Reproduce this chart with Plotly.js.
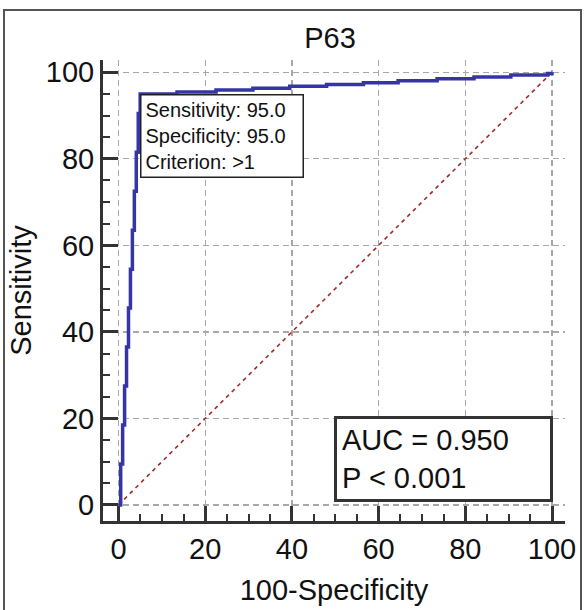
<!DOCTYPE html>
<html><head><meta charset="utf-8">
<script src="https://cdn.plot.ly/plotly-3.0.1.min.js"></script>
<style>
html,body{margin:0;padding:0;background:#fff;}
#wrap{position:relative;width:585px;height:610px;overflow:hidden;}
#frame{position:absolute;left:3px;top:9px;width:579px;height:620px;border:2px solid #555;box-sizing:border-box;pointer-events:none;z-index:2}
#chart{position:absolute;left:0;top:0;width:585px;height:610px;}
</style></head>
<body><div id="wrap"><div id="chart"></div><div id="frame"></div></div>
<script>
// ROC curve operating points (100-Specificity, Sensitivity), drawn as steps
const fprPoints  = [0, 0.5, 0.95, 1.4, 1.85, 2.3, 2.75, 3.2, 3.65, 4.1, 4.55, 5.0,
                    13.5, 22.5, 31, 39.5, 48, 56.5, 64.5, 73.5, 82, 90.5, 99, 100];
const sensPoints = [0, 9.5, 18.5, 27.5, 36.5, 45.5, 54.5, 63.5, 72.5, 81.5, 90.5, 95,
                    95.45, 95.9, 96.3, 96.75, 97.2, 97.6, 98.05, 98.5, 98.9, 99.35, 99.7, 100];
// reference (chance) line
const refX = [0, 100];
const refY = [0, 100];
// tick values
const tickValues = [0, 20, 40, 60, 80, 100];
const tickLabels = ['0', '20', '40', '60', '80', '100'];
// texts
const chartTitle = 'P63';
const xTitle = '100-Specificity';
const yTitle = 'Sensitivity';
const cutoffSens = 95.0, cutoffSpec = 95.0, criterion = '>1';
const aucText = 'AUC = 0.950';
const pText = 'P &lt; 0.001';

const FONT = '"Liberation Sans", Arial, Helvetica, sans-serif';

const traces = [
  {x: refX, y: refY, type: 'scatter', mode: 'lines',
   line: {color: '#a02a2a', width: 1.6, dash: '4px,4px'}, hoverinfo: 'skip'},
  {x: fprPoints, y: sensPoints, type: 'scatter', mode: 'lines',
   line: {color: '#3535a5', width: 3.5, shape: 'hv'}}
];

const axisCommon = {
  showline: true, linewidth: 3, linecolor: '#333', mirror: false,
  ticks: 'inside', ticklen: 15, tickwidth: 3, tickcolor: '#333',
  tickvals: tickValues, ticktext: tickLabels,
  showgrid: true, gridcolor: '#a8a8a8', griddash: '6px,4px', gridwidth: 1.2,
  zeroline: false,
  minor: {dtick: 5, tick0: 0, ticks: 'inside', ticklen: 7, tickwidth: 2, tickcolor: '#333', showgrid: false},
  tickfont: {size: 29, family: FONT, color: '#111'},
  automargin: false, fixedrange: true
};

const layout = {
  width: 585, height: 610,
  margin: {l: 103, r: 20, t: 60, b: 89, pad: 0},
  paper_bgcolor: '#fff', plot_bgcolor: '#fff',
  showlegend: false,
  font: {family: FONT, color: '#111'},
  title: {text: chartTitle, font: {size: 29, family: FONT, color: '#111'},
          x: 330/585, xref: 'container', xanchor: 'center',
          y: 1 - 38/610, yref: 'container', yanchor: 'middle'},
  xaxis: Object.assign({}, axisCommon, {
    range: [-3.58, 103.0],
    title: {text: xTitle, font: {size: 29, family: FONT, color: '#111'}, standoff: 16}
  }),
  yaxis: Object.assign({}, axisCommon, {
    range: [-3.7, 102.84],
    title: {text: yTitle, font: {size: 29, family: FONT, color: '#111'}, standoff: 6}
  }),
  annotations: [
    {x: 5, y: 95, xref: 'x', yref: 'y', xanchor: 'left', yanchor: 'top',
     text: 'Sensitivity: ' + cutoffSens.toFixed(1) + '<br>Specificity: ' + cutoffSpec.toFixed(1) + '<br>Criterion: ' + criterion.replace('>', '&gt;'),
     showarrow: false, align: 'left', valign: 'middle',
     font: {size: 20, family: FONT, color: '#111'},
     bgcolor: '#fff', bordercolor: '#222', borderwidth: 1.5, borderpad: 4,
     width: 153, height: 73},
    {x: 100.2, y: 0.8, xref: 'x', yref: 'y', xanchor: 'right', yanchor: 'bottom',
     text: aucText + '<br>' + pText,
     showarrow: false, align: 'left', valign: 'middle',
     font: {size: 29, family: FONT, color: '#111'},
     bgcolor: '#fff', bordercolor: '#333', borderwidth: 3, borderpad: 5,
     width: 203}
  ]
};

Plotly.newPlot('chart', traces, layout, {staticPlot: true, displayModeBar: false});
</script>
</body></html>
